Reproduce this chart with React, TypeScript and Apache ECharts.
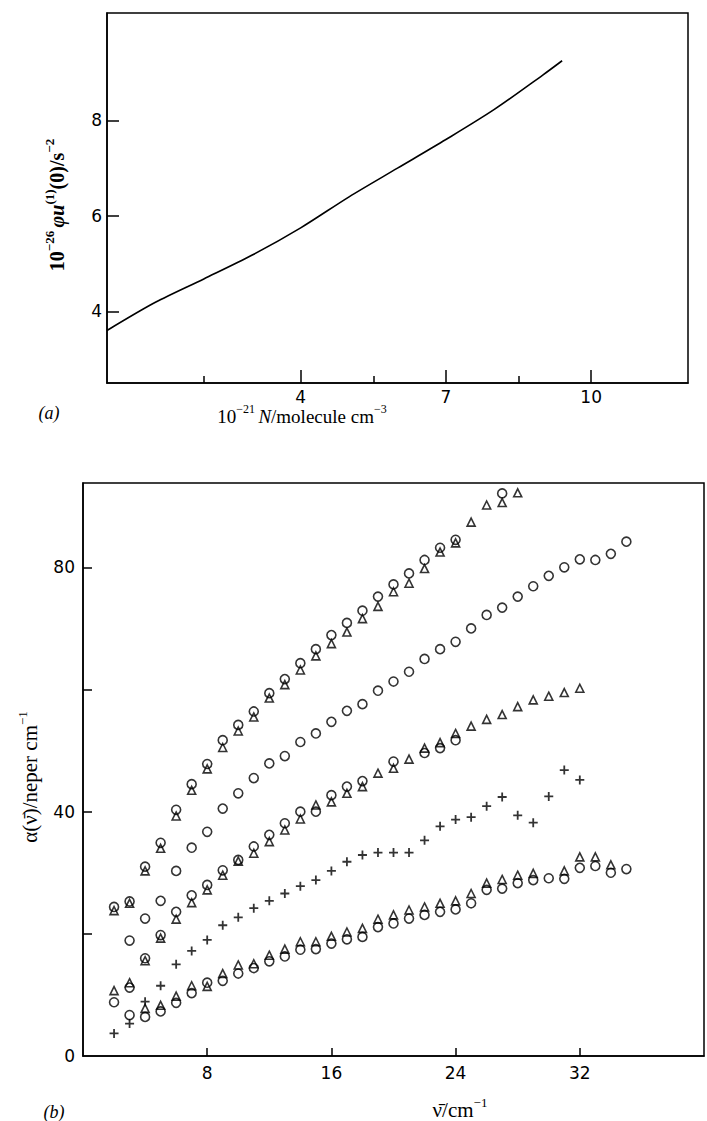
import React, { useEffect, useRef } from "react";
import * as echarts from "echarts";

// ---- Panel (a): curve ----
const curveX = [0, 1, 2, 3, 4, 5, 6, 7, 8, 9, 9.4];
const curveY = [3.6, 4.19, 4.68, 5.18, 5.75, 6.4, 7.0, 7.6, 8.23, 8.95, 9.25];
const aXLabels = [4, 7, 10];
const aXMajorTicks = [4, 7, 10];
const aXMinorTicks = [2, 5.5, 8.5];
const aYLabels = [4, 6, 8];

// ---- Panel (b): scatter series ----
const aCircX = [2, 3, 4, 5, 6, 7, 8, 9, 10, 11, 12, 13, 14, 15, 16, 17, 18, 19, 20, 21, 22, 23, 24, 27];
const aCircY = [24.4, 25.3, 31.0, 34.9, 40.3, 44.5, 47.8, 51.7, 54.2, 56.4, 59.4, 61.7, 64.3, 66.6, 68.9, 70.9, 72.9, 75.2, 77.2, 79.0, 81.2, 83.2, 84.5, 92.1];
const aTriX = [2, 3, 4, 5, 6, 7, 8, 9, 10, 11, 12, 13, 14, 15, 16, 17, 18, 19, 20, 21, 22, 23, 24, 25, 26, 27, 28];
const aTriY = [23.8, 25.0, 30.3, 34.0, 39.3, 43.5, 47.0, 50.5, 53.2, 55.5, 58.6, 60.8, 63.2, 65.5, 67.5, 69.4, 71.6, 73.6, 76.0, 77.4, 79.8, 82.5, 84.0, 87.4, 90.2, 90.6, 92.2];

const bCircX = [3, 4, 5, 6, 7, 8, 9, 10, 11, 12, 13, 14, 15, 16, 17, 18, 19, 20, 21, 22, 23, 24, 25, 26, 27, 28, 29, 30, 31, 32, 33, 34, 35];
const bCircY = [18.9, 22.5, 25.4, 30.3, 34.1, 36.7, 40.5, 43.0, 45.5, 47.9, 49.1, 51.4, 52.8, 54.7, 56.5, 57.6, 59.8, 61.3, 62.9, 65.0, 66.6, 67.8, 70.0, 72.2, 73.4, 75.2, 76.9, 78.6, 80.0, 81.3, 81.2, 82.2, 84.2];

const cCircX = [2, 3, 4, 5, 6, 7, 8, 9, 10, 11, 12, 13, 14, 15, 16, 17, 18, 20, 22, 23, 24];
const cCircY = [8.8, 11.2, 16.0, 19.8, 23.6, 26.3, 28.0, 30.4, 32.1, 34.3, 36.2, 38.1, 40.0, 40.0, 42.7, 44.1, 45.0, 48.2, 49.6, 50.4, 51.7];
const cTriX = [2, 3, 4, 5, 6, 7, 8, 9, 10, 11, 12, 13, 14, 15, 16, 17, 18, 19, 20, 21, 22, 23, 24, 25, 26, 27, 28, 29, 30, 31, 32];
const cTriY = [10.7, 12.0, 15.6, 19.3, 22.4, 25.1, 27.2, 29.6, 31.9, 33.2, 35.1, 37.0, 38.8, 41.1, 41.6, 43.0, 44.1, 46.3, 47.1, 48.6, 50.4, 51.3, 52.8, 54.0, 55.1, 55.9, 57.2, 58.3, 58.9, 59.5, 60.2];

const dCrossX = [2, 3, 4, 5, 6, 7, 8, 9, 10, 11, 12, 13, 14, 15, 16, 17, 18, 19, 20, 21, 22, 23, 24, 25, 26, 27, 28, 29, 30, 31, 32];
const dCrossY = [3.7, 5.3, 8.9, 11.5, 15.0, 17.2, 19.0, 21.4, 22.7, 24.2, 25.4, 26.6, 27.8, 28.8, 30.3, 31.8, 32.9, 33.3, 33.3, 33.3, 35.3, 37.6, 38.7, 39.1, 40.9, 42.4, 39.4, 38.2, 42.5, 46.8, 45.2];

const eCircX = [3, 4, 5, 6, 7, 8, 9, 10, 11, 12, 13, 14, 15, 16, 17, 18, 19, 20, 21, 22, 23, 24, 25, 26, 27, 28, 29, 30, 31, 32, 33, 34, 35];
const eCircY = [6.7, 6.4, 7.3, 8.7, 10.3, 12.0, 12.3, 13.5, 14.4, 15.5, 16.3, 17.4, 17.5, 18.4, 19.1, 19.5, 21.1, 21.7, 22.5, 23.1, 23.6, 24.0, 25.0, 27.2, 27.4, 28.3, 28.8, 29.1, 29.0, 30.8, 31.1, 30.0, 30.6];
const eTriX = [4, 5, 6, 7, 8, 9, 10, 11, 12, 13, 14, 15, 16, 17, 18, 19, 20, 21, 22, 23, 24, 25, 26, 27, 28, 29, 31, 32, 33, 34];
const eTriY = [7.8, 8.3, 9.8, 11.5, 11.4, 13.5, 14.9, 15.1, 16.5, 17.5, 18.7, 18.7, 19.6, 20.3, 20.9, 22.4, 23.1, 23.9, 24.4, 25.0, 25.4, 26.6, 28.3, 28.9, 29.6, 29.9, 30.3, 32.6, 32.6, 31.3];

const bXLabels = [8, 16, 24, 32];
const bYLabels = [0, 40, 80];
const bYTicks = [20, 40, 60, 80];

const zip = (xs: number[], ys: number[]) => xs.map((x, i) => [x, ys[i]]);

const SERIF = "Liberation Serif";
const SANS = "DejaVu Sans";
const PLUS = "path://M4,0H6V4H10V6H6V10H4V6H0V4H4Z";

export default function App() {
  const ref = useRef<HTMLDivElement>(null);
  useEffect(() => {
    if (!ref.current) return;
    const chart = echarts.init(ref.current, undefined, { renderer: "svg" });
    const axisLine = { show: true, lineStyle: { color: "#000", width: 1.5 } };
    const label = { color: "#000", fontFamily: SANS, fontSize: 17 };
    const hollow = (w = 1.6) => ({ color: "rgba(0,0,0,0)", borderColor: "#000", borderWidth: w });
    const sc = (xs: number[], ys: number[], symbol: string, size: number, filled = false) => ({
      type: "scatter",
      xAxisIndex: 2,
      yAxisIndex: 1,
      symbol,
      symbolSize: size,
      data: zip(xs, ys),
      itemStyle: filled ? { color: "#000" } : hollow(),
      silent: true,
    });
    const n = { fontFamily: SERIF, fontSize: 19, lineHeight: 23, verticalAlign: "bottom" as const };
    const s = { fontFamily: SERIF, fontSize: 12, lineHeight: 12, verticalAlign: "top" as const };
    const nb = { fontFamily: SERIF, fontSize: 20, lineHeight: 24, verticalAlign: "bottom" as const, fontWeight: "bold" };
    const sb = { fontFamily: SERIF, fontSize: 13, lineHeight: 13, verticalAlign: "top" as const, fontWeight: "bold" };
    const ny = { ...n, fontSize: 21, lineHeight: 25 };
    const sy = { ...s, fontSize: 13, lineHeight: 13 };
    const option: any = {
      animation: false,
      backgroundColor: "#fff",
      grid: [
        { left: 107, top: 13, width: 581, height: 370, show: true, borderColor: "#000", borderWidth: 1.5, containLabel: false },
        { left: 83, top: 483, width: 621, height: 573, show: true, borderColor: "#000", borderWidth: 1.5, containLabel: false },
      ],
      xAxis: [
        {
          type: "value", gridIndex: 0, min: 0, max: 12, position: "bottom",
          axisLine, splitLine: { show: false },
          axisTick: { show: true, inside: true, length: 13, customValues: aXMajorTicks, lineStyle: { color: "#000", width: 1.5 } },
          axisLabel: { ...label, margin: 5, customValues: aXLabels },
        },
        {
          type: "value", gridIndex: 0, min: 0, max: 12, position: "bottom",
          axisLine: { show: false }, splitLine: { show: false },
          axisTick: { show: true, inside: true, length: 7, customValues: aXMinorTicks, lineStyle: { color: "#000", width: 1.5 } },
          axisLabel: { show: false },
        },
        {
          type: "value", gridIndex: 1, min: 0, max: 40, position: "bottom",
          axisLine, splitLine: { show: false },
          axisTick: { show: true, inside: true, length: 8, customValues: bXLabels, lineStyle: { color: "#000", width: 1.5 } },
          axisLabel: { ...label, margin: 8, customValues: bXLabels },
        },
      ],
      yAxis: [
        {
          type: "value", gridIndex: 0, min: 2.5, max: 10.25,
          axisLine, splitLine: { show: false },
          axisTick: { show: true, inside: true, length: 12, customValues: aYLabels, lineStyle: { color: "#000", width: 1.5 } },
          axisLabel: { ...label, margin: 5, customValues: aYLabels },
        },
        {
          type: "value", gridIndex: 1, min: 0, max: 93.8,
          axisLine, splitLine: { show: false },
          axisTick: { show: true, inside: true, length: 9, customValues: bYTicks, lineStyle: { color: "#000", width: 1.5 } },
          axisLabel: { ...label, margin: 8, customValues: bYLabels },
        },
      ],
      series: [
        {
          type: "line", xAxisIndex: 0, yAxisIndex: 0, data: zip(curveX, curveY),
          showSymbol: false, smooth: 0.3, lineStyle: { color: "#000", width: 1.6 }, silent: true,
        },
        sc(aCircX, aCircY, "circle", 9),
        sc(aTriX, aTriY, "triangle", 8),
        sc(bCircX, bCircY, "circle", 9),
        sc(cCircX, cCircY, "circle", 9),
        sc(cTriX, cTriY, "triangle", 8),
        sc(dCrossX, dCrossY, PLUS, 9, true),
        sc(eCircX, eCircY, "circle", 9),
        sc(eTriX, eTriY, "triangle", 8),
      ],
      graphic: [
        {
          type: "text", x: 55, y: 205, rotation: Math.PI / 2,
          style: {
            text: "{b|10}{bs|−26} {bi|φu}{bs|(1)}{b|(0)/s}{bs|−2}",
            align: "center", verticalAlign: "middle", fill: "#000",
            rich: {
              b: nb,
              bi: { ...nb, fontStyle: "italic" },
              bs: sb,
            },
          },
        },
        {
          type: "text", x: 302, y: 414,
          style: {
            text: "{n|10}{s|−21} {i|N}{n|/molecule cm}{s|−3}",
            align: "center", verticalAlign: "middle", fill: "#000",
            rich: { n, s, i: { ...n, fontStyle: "italic" } },
          },
        },
        {
          type: "text", x: 49, y: 413,
          style: { text: "(a)", align: "center", verticalAlign: "middle", fill: "#000", fontFamily: SERIF, fontSize: 18, fontStyle: "italic" },
        },
        {
          type: "text", x: 28, y: 777, rotation: Math.PI / 2,
          style: {
            text: "{n|α(ν\u0304)/neper cm}{s|−1}",
            align: "center", verticalAlign: "middle", fill: "#000",
            rich: { n: ny, s: sy },
          },
        },
        {
          type: "text", x: 460, y: 1108,
          style: {
            text: "{n|ν\u0304/cm}{s|−1}",
            align: "center", verticalAlign: "middle", fill: "#000",
            rich: { n: ny, s: sy },
          },
        },
        {
          type: "text", x: 54, y: 1112,
          style: { text: "(b)", align: "center", verticalAlign: "middle", fill: "#000", fontFamily: SERIF, fontSize: 18, fontStyle: "italic" },
        },
      ],
    };
    chart.setOption(option);
    return () => chart.dispose();
  }, []);
  return (
    <div
      ref={ref}
      style={{ position: "fixed", left: 0, top: 0, width: 707, height: 1121, background: "#fff" }}
    />
  );
}
